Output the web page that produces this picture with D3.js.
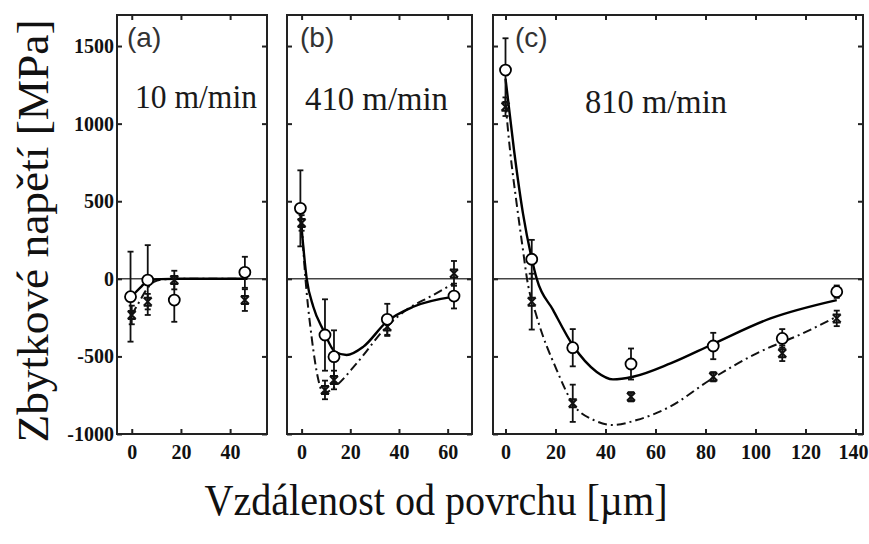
<!DOCTYPE html>
<html>
<head>
<meta charset="utf-8">
<script src="https://cdn.jsdelivr.net/npm/d3@7"></script>
<style>body { margin: 0; background: #fff; }</style>
</head>
<body>
<div id="chart"></div>
<script>
// values: [depth (µm), stress (MPa), error]
const yTicks = [-1000, -500, 0, 500, 1000, 1500]
const xTicksA = [0, 20, 40]
const xTicksB = [0, 20, 40, 60]
const xTicksC = [0, 20, 40, 60, 80, 100, 120, 140]
const panelNames = ['(a)', '(b)', '(c)']
const speeds = ['10 m/min', '410 m/min', '810 m/min']

const circA = [[-0.5, -115, 290], [6.5, -8, 225], [17.3, -137, 140], [46, 42, 100]]
const crossA = [[0, -233, 60], [6.5, -147, 50], [17.3, -8, 60], [46, -137, 70]]
const solidA = [[0, -115], [2, -80], [4, -48], [6, -20], [8, -8], [12, -2], [20, 0], [47, 0]]
const dashA = [[0, -233], [3, -150], [6, -70], [9, -20], [13, -3], [20, 0], [47, 0]]

const circB = [[-0.5, 454, 245], [9.6, -362, 230], [13.3, -502, 170], [35.2, -261, 100], [62.6, -111, 80]]
const crossB = [[0, 360, 50], [9.6, -716, 60], [13.3, -652, 60], [35.2, -308, 60], [62.6, 35, 80]]
const solidB = [[-0.4, 400], [2.1, 0], [4.8, -180], [8.9, -330], [13.7, -470], [18.5, -491], [25.4, -437], [35, -276], [45.9, -180], [62.6, -115]]
const dashB = [[0, 360], [1.3, 57], [4.1, -373], [6.9, -652], [8.9, -738], [13.7, -695], [22.6, -545], [35, -308], [43, -201], [52.8, -115], [62.6, -30]]

const circC = [[0, 1345, 205], [10.5, 126, 125], [26.9, -444, 120], [50.2, -549, 100], [83.1, -433, 85], [110.7, -384, 60], [132.5, -83, 40]]
const crossC = [[0, 1109, 60], [10.5, -147, 180], [26.9, -802, 120], [50.2, -760, 30], [83.1, -631, 30], [110.7, -480, 50], [132.5, -255, 50]]
const solidC = [[0, 1290], [3.4, 830], [7, 420], [10.5, 130], [12.5, 0], [19, -200], [27, -430], [36.5, -600], [43, -648], [51, -631], [66, -545], [83, -420], [106, -255], [132.5, -137]]
const dashC = [[0, 1130], [1.8, 830], [4.5, 480], [7, 185], [8.6, 0], [12.5, -244], [20.5, -588], [27.3, -813], [35.3, -910], [43, -942], [52.5, -910], [65.8, -824], [81.8, -652], [100.5, -480], [119, -351], [132.5, -244]]

const width = 869
const height = 544
const plotTop = 15
const plotBottom = 434

const panels = [
    { x0: 117, x1: 267, dom: [-6, 55], ticks: xTicksA, circ: circA, cross: crossA, solid: solidA, dash: dashA, labX: 127, spX: 135, spY: 108, spLen: 122 },
    { x0: 287, x1: 472, dom: [-6, 70], ticks: xTicksB, circ: circB, cross: crossB, solid: solidB, dash: dashB, labX: 300, spX: 305, spY: 110, spLen: 143 },
    { x0: 493, x1: 863, dom: [-5, 143], ticks: xTicksC, circ: circC, cross: crossC, solid: solidC, dash: dashC, labX: 515, spX: 585, spY: 113, spLen: 142 }
]

const svg = d3.select('#chart').append('svg')
    .attr('width', width)
    .attr('height', height)

const y = d3.scaleLinear().domain([-1000, 1700]).range([plotBottom, plotTop])

const serif = '"Liberation Serif", "Times New Roman", serif'
const sans = '"Liberation Sans", Arial, sans-serif'

panels.forEach((p, i) => {
    const x = d3.scaleLinear().domain(p.dom).range([p.x0, p.x1])
    const g = svg.append('g')

    // zero line
    g.append('line')
        .attr('x1', p.x0).attr('x2', p.x1)
        .attr('y1', y(0)).attr('y2', y(0))
        .attr('stroke', '#444').attr('stroke-width', 1.5)

    // axes with inward ticks on every side
    const xb = g.append('g').attr('transform', `translate(0, ${plotBottom})`)
        .call(d3.axisBottom(x).tickValues(p.ticks).tickSize(-5).tickPadding(11).tickFormat(d => String(d)))
    const xt = g.append('g').attr('transform', `translate(0, ${plotTop})`)
        .call(d3.axisTop(x).tickValues(p.ticks).tickSize(-5).tickFormat(''))
    const yl = g.append('g').attr('transform', `translate(${p.x0}, 0)`)
        .call(d3.axisLeft(y).tickValues(yTicks).tickSize(-5).tickPadding(3).tickFormat(i === 0 ? d => String(d) : ''))
    const yr = g.append('g').attr('transform', `translate(${p.x1}, 0)`)
        .call(d3.axisRight(y).tickValues(yTicks).tickSize(-5).tickFormat(''))

    ;[xb, xt, yl, yr].forEach(a => {
        a.select('.domain').remove()
        a.selectAll('line').attr('stroke', '#222').attr('stroke-width', 2)
        a.selectAll('text').attr('font-family', serif).attr('font-weight', 'bold')
            .attr('font-size', 20).attr('fill', '#111')
    })

    // last label sits at the page edge, keep it inside
    const lastTick = p.ticks[p.ticks.length - 1]
    if (x(lastTick) + 16 > width) {
        xb.selectAll('text').filter(d => d === lastTick)
            .attr('text-anchor', 'end').attr('x', width - 1 - x(lastTick))
    }

    // frame
    g.append('rect')
        .attr('x', p.x0).attr('y', plotTop)
        .attr('width', p.x1 - p.x0).attr('height', plotBottom - plotTop)
        .attr('fill', 'none').attr('stroke', '#222').attr('stroke-width', 2)

    // fitted curves
    const line = d3.line().x(d => x(d[0])).y(d => y(d[1])).curve(d3.curveMonotoneX)
    g.append('path').attr('d', line(p.dash))
        .attr('fill', 'none').attr('stroke', '#111').attr('stroke-width', 2)
        .attr('stroke-dasharray', '9,4,2,4')
    g.append('path').attr('d', line(p.solid))
        .attr('fill', 'none').attr('stroke', '#000').attr('stroke-width', 2.4)

    // error bars
    const bars = p.cross.concat(p.circ)
    g.selectAll(null).data(bars).enter().append('line')
        .attr('x1', d => x(d[0])).attr('x2', d => x(d[0]))
        .attr('y1', d => y(d[1] + d[2])).attr('y2', d => y(d[1] - d[2]))
        .attr('stroke', '#111').attr('stroke-width', 1.8)
    g.selectAll(null).data(bars.flatMap(d => [[d[0], d[1] + d[2]], [d[0], d[1] - d[2]]])).enter().append('line')
        .attr('x1', d => x(d[0]) - 3).attr('x2', d => x(d[0]) + 3)
        .attr('y1', d => y(d[1])).attr('y2', d => y(d[1]))
        .attr('stroke', '#111').attr('stroke-width', 1.8)

    // cross markers
    g.selectAll(null).data(p.cross).enter().append('path')
        .attr('d', d => {
            const cx = x(d[0]), cy = y(d[1]), s = 4
            return `M${cx - s},${cy - s}L${cx + s},${cy + s}M${cx + s},${cy - s}L${cx - s},${cy + s}M${cx - s},${cy - s}L${cx + s},${cy - s}M${cx - s},${cy + s}L${cx + s},${cy + s}`
        })
        .attr('stroke', '#111').attr('stroke-width', 2).attr('fill', 'none')

    // circle markers
    g.selectAll(null).data(p.circ).enter().append('circle')
        .attr('cx', d => x(d[0])).attr('cy', d => y(d[1])).attr('r', 5.5)
        .attr('fill', '#fff').attr('stroke', '#000').attr('stroke-width', 1.8)

    // panel letter and speed
    g.append('text').text(panelNames[i])
        .attr('x', p.labX).attr('y', 47)
        .attr('font-family', sans).attr('font-size', 28).attr('fill', '#333')
    g.append('text').text(speeds[i])
        .attr('x', p.spX).attr('y', p.spY)
        .attr('textLength', p.spLen).attr('lengthAdjust', 'spacingAndGlyphs')
        .attr('font-family', serif).attr('font-size', 33).attr('fill', '#1a1a1a')
})

// axis titles
svg.append('text').text('Vzdálenost od povrchu [µm]')
    .attr('x', 436).attr('y', 515)
    .attr('text-anchor', 'middle')
    .attr('textLength', 463).attr('lengthAdjust', 'spacingAndGlyphs')
    .attr('font-family', serif).attr('font-size', 45).attr('fill', '#111')

svg.append('text').text('Zbytkové napětí [MPa]')
    .attr('transform', 'translate(48, 231) rotate(-90)')
    .attr('text-anchor', 'middle')
    .attr('textLength', 423).attr('lengthAdjust', 'spacingAndGlyphs')
    .attr('font-family', serif).attr('font-size', 45).attr('fill', '#111')
</script>
</body>
</html>
